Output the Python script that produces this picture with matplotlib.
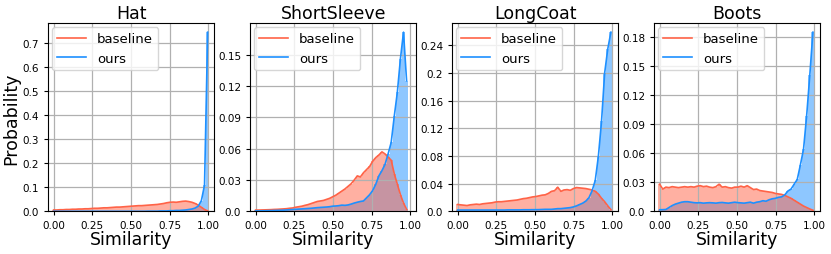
import numpy as np
import matplotlib
matplotlib.use('Agg')
import matplotlib.pyplot as plt

# 50 bins per panel, values are the fraction of samples per bin
titles = ['Hat', 'ShortSleeve', 'LongCoat', 'Boots']
x_end = [0.995, 0.975, 0.99, 0.99]   # position of the last bin in each panel

hat_base = [0.006, 0.006, 0.007, 0.007, 0.008, 0.008, 0.009, 0.009, 0.010, 0.010,
            0.011, 0.011, 0.012, 0.013, 0.013, 0.014, 0.015, 0.015, 0.016, 0.017,
            0.018, 0.018, 0.019, 0.020, 0.021, 0.022, 0.023, 0.024, 0.024, 0.025,
            0.026, 0.027, 0.028, 0.029, 0.031, 0.033, 0.036, 0.038, 0.039, 0.038,
            0.040, 0.042, 0.043, 0.041, 0.038, 0.033, 0.026, 0.017, 0.008, 0.002]
hat_ours = [0.0005] * 30 + \
           [0.001, 0.001, 0.001, 0.001, 0.002, 0.002, 0.002, 0.003, 0.003, 0.004,
            0.004, 0.005, 0.006, 0.008, 0.010, 0.014, 0.022, 0.045, 0.110, 0.746]

ss_base = [0.0013, 0.0013, 0.0014, 0.0015, 0.0016, 0.0017, 0.0019, 0.0020, 0.0022, 0.0024,
           0.0026, 0.0030, 0.0033, 0.0040, 0.0045, 0.0050, 0.0058, 0.0065, 0.0075, 0.0085,
           0.0095, 0.0100, 0.0105, 0.0115, 0.0125, 0.0140, 0.0155, 0.0175, 0.0195, 0.0215,
           0.0240, 0.0265, 0.0300, 0.0340, 0.0330, 0.0370, 0.0400, 0.0430, 0.0480, 0.0515,
           0.0540, 0.0570, 0.0550, 0.0520, 0.0490, 0.0360, 0.0260, 0.0160, 0.0080, 0.0020]
ss_ours = [0.0005, 0.0005, 0.0006, 0.0006, 0.0007, 0.0008, 0.0009, 0.0010, 0.0011, 0.0012,
           0.0014, 0.0016, 0.0018, 0.0020, 0.0022, 0.0024, 0.0026, 0.0028, 0.0030, 0.0033,
           0.0036, 0.0038, 0.0040, 0.0042, 0.0045, 0.0050, 0.0052, 0.0055, 0.0060, 0.0058,
           0.0062, 0.0070, 0.0080, 0.0088, 0.0095, 0.0100, 0.0130, 0.0160, 0.0200, 0.0260,
           0.0340, 0.0390, 0.0450, 0.0550, 0.0660, 0.0910, 0.1140, 0.1460, 0.1715, 0.1250]

lc_base = [0.0100, 0.0095, 0.0090, 0.0085, 0.0095, 0.0100, 0.0105, 0.0100, 0.0110, 0.0115,
           0.0120, 0.0125, 0.0135, 0.0140, 0.0140, 0.0145, 0.0150, 0.0155, 0.0160, 0.0165,
           0.0175, 0.0185, 0.0190, 0.0200, 0.0210, 0.0215, 0.0225, 0.0235, 0.0240, 0.0260,
           0.0290, 0.0300, 0.0350, 0.0290, 0.0310, 0.0315, 0.0305, 0.0330, 0.0345, 0.0340,
           0.0335, 0.0330, 0.0320, 0.0310, 0.0290, 0.0250, 0.0190, 0.0140, 0.0080, 0.0025]
lc_ours = [0.0020, 0.0020, 0.0020, 0.0020, 0.0020, 0.0020, 0.0020, 0.0020, 0.0020, 0.0020,
           0.0020, 0.0020, 0.0020, 0.0020, 0.0020, 0.0020, 0.0022, 0.0022, 0.0022, 0.0022,
           0.0022, 0.0024, 0.0024, 0.0024, 0.0025, 0.0025, 0.0026, 0.0028, 0.0030, 0.0030,
           0.0030, 0.0035, 0.0040, 0.0040, 0.0045, 0.0050, 0.0055, 0.0065, 0.0080, 0.0100,
           0.0120, 0.0150, 0.0200, 0.0300, 0.0450, 0.0800, 0.1300, 0.2000, 0.2350, 0.2590]

bt_base = [0.0280, 0.0230, 0.0250, 0.0245, 0.0255, 0.0250, 0.0245, 0.0250, 0.0255, 0.0250,
           0.0255, 0.0250, 0.0260, 0.0265, 0.0255, 0.0260, 0.0250, 0.0245, 0.0255, 0.0280,
           0.0250, 0.0255, 0.0245, 0.0240, 0.0250, 0.0250, 0.0260, 0.0250, 0.0265, 0.0245,
           0.0225, 0.0230, 0.0215, 0.0210, 0.0205, 0.0200, 0.0195, 0.0185, 0.0180, 0.0175,
           0.0165, 0.0150, 0.0135, 0.0115, 0.0095, 0.0075, 0.0055, 0.0040, 0.0025, 0.0012]
bt_ours = [0.0017, 0.0018, 0.0020, 0.0040, 0.0060, 0.0075, 0.0085, 0.0095, 0.0100, 0.0100,
           0.0095, 0.0090, 0.0088, 0.0090, 0.0085, 0.0088, 0.0090, 0.0088, 0.0085, 0.0090,
           0.0092, 0.0088, 0.0085, 0.0090, 0.0095, 0.0090, 0.0088, 0.0085, 0.0090, 0.0095,
           0.0085, 0.0095, 0.0100, 0.0110, 0.0105, 0.0120, 0.0130, 0.0135, 0.0145, 0.0150,
           0.0170, 0.0210, 0.0230, 0.0280, 0.0330, 0.0480, 0.0640, 0.0985, 0.1400, 0.1845]

baseline = [hat_base, ss_base, lc_base, bt_base]
ours = [hat_ours, ss_ours, lc_ours, bt_ours]

ytick_vals = [[0.0, 0.1, 0.2, 0.3, 0.4, 0.5, 0.6, 0.7],
              [0.0, 0.03, 0.06, 0.09, 0.12, 0.15],
              [0.0, 0.04, 0.08, 0.12, 0.16, 0.2, 0.24],
              [0.0, 0.03, 0.06, 0.09, 0.12, 0.15, 0.18]]

red = '#ff6347'
blue = '#1e90ff'

fig, axes = plt.subplots(1, 4, figsize=(8.31, 2.55), dpi=100)
fig.subplots_adjust(left=0.058, right=0.987, bottom=0.167, top=0.905, wspace=0.217)

for i, ax in enumerate(axes):
    b = np.array(baseline[i])
    o = np.array(ours[i])
    x = np.linspace(0, x_end[i], len(b))
    w = x[1] - x[0]
    ax.bar(x, o, width=w, color=blue, alpha=0.5, linewidth=0)
    ax.bar(x, b, width=w, color=red, alpha=0.5, linewidth=0)
    ax.plot(x, b, color=red, lw=1.2, label='baseline')
    ax.plot(x, o, color=blue, lw=1.2, label='ours')
    ax.set_xlim(-0.035, 1.037)
    ax.set_ylim(0, max(b.max(), o.max()) * 1.05)
    ax.set_xticks([0, 0.25, 0.5, 0.75, 1.0])
    ax.set_xticklabels(['0.00', '0.25', '0.50', '0.75', '1.00'])
    ax.set_yticks(ytick_vals[i])
    ax.set_yticklabels([str(v) for v in ytick_vals[i]])
    ax.tick_params(labelsize=7.5, length=3)
    ax.grid(True, color='#b0b0b0', lw=0.9)
    ax.set_title(titles[i], fontsize=12.5, pad=4)
    ax.set_xlabel('Similarity', fontsize=12.5, labelpad=0)
    ax.legend(loc='upper left', fontsize=9.5, handlelength=2.2, borderaxespad=0.3)

axes[0].set_ylabel('Probability', fontsize=12.5, labelpad=2)

plt.savefig('out.png')
